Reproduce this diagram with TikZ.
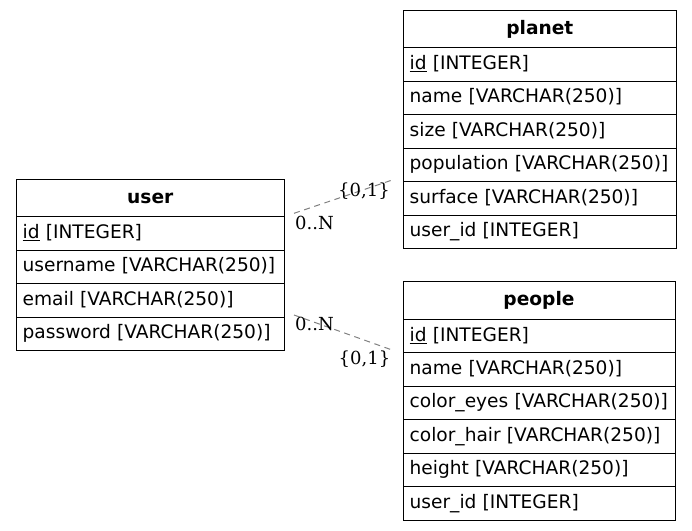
\documentclass[tikz,border=0pt]{standalone}
\usepackage{fontspec}
\setmainfont{DejaVu Sans}
\newfontfamily\cardfont{DejaVu Serif}
\begin{document}
\begin{tikzpicture}[x=0.75pt,y=-0.75pt,
  fld/.style={draw, line width=0.75pt, anchor=north west, outer sep=0pt,
    inner xsep=5pt, inner ysep=0pt, text width=#1, minimum height=25.1pt,
    text height=11pt, text depth=3.5pt, align=left,
    font=\fontsize{13.95}{16}\selectfont},
  hd/.style={fld=#1, anchor=south west, minimum height=28pt, align=center,
    font=\fontsize{13.95}{16}\selectfont\bfseries},
  rel/.style={draw=gray, line width=0.75pt, dash pattern=on 4.5pt off 3.5pt},
  card/.style={inner sep=0pt, font=\cardfont\fontsize{13.5}{16}\selectfont}]
\useasboundingbox (0,0) rectangle (692,531);

% user
\node [hd=191.4pt] (user) at (16,216.7) {user};
\foreach \f [count=\i] in {{\underline{id} [INTEGER]}, {username [VARCHAR(250)]},
    {email [VARCHAR(250)]}, {password [VARCHAR(250)]}}
  \node [fld=191.4pt] (user-\i) at (16,{216.7+(\i-1)*33.47}) {\f};

% planet
\node [hd=195.3pt] (planet) at (403,47.7) {planet};
\foreach \f [count=\i] in {{\underline{id} [INTEGER]}, {name [VARCHAR(250)]},
    {size [VARCHAR(250)]}, {population [VARCHAR(250)]}, {surface [VARCHAR(250)]},
    {user\_id [INTEGER]}}
  \node [fld=195.3pt] (planet-\i) at (403,{47.7+(\i-1)*33.47}) {\f};

% people
\node [hd=194pt] (people) at (403,319.3) {people};
\foreach \f [count=\i] in {{\underline{id} [INTEGER]}, {name [VARCHAR(250)]},
    {color\_eyes [VARCHAR(250)]}, {color\_hair [VARCHAR(250)]},
    {height [VARCHAR(250)]}, {user\_id [INTEGER]}}
  \node [fld=194pt] (people-\i) at (403,{319.3+(\i-1)*33.47}) {\f};

% relations
\draw [rel] ([shift={(9.5,-3.4)}]user-1.north east) -- ([shift={(-10.7,-1.6)}]planet-5.north west);
\draw [rel] ([shift={(9.5,-2.1)}]user-4.north east) -- ([shift={(-11,-2.8)}]people-2.north west);
\node [card] (planet-many) at (314.5,222.5) {0..N};
\node [card] (planet-one) at (364,191) {\{0,1\}};
\node [card] (people-many) at (314.5,323.7) {0..N};
\node [card] (people-one) at (364.5,359) {\{0,1\}};
\end{tikzpicture}
\end{document}
